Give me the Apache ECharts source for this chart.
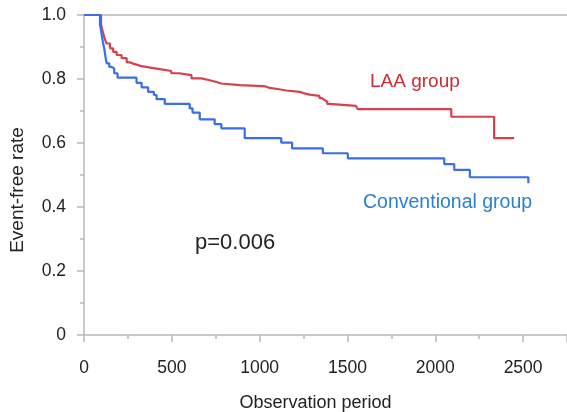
<!DOCTYPE html>
<html>
<head>
<meta charset="utf-8">
<script src="https://cdn.jsdelivr.net/npm/echarts@6/dist/echarts.min.js"></script>
<style>
  html, body { margin: 0; padding: 0; background: #fff; }
  #chart { width: 567px; height: 412px; }
</style>
</head>
<body>
<div id="chart"></div>
<script>
// Kaplan-Meier steps: [day, event-free rate after the step]
const laaSteps = [
  [0, 1.0], [97, 0.97], [106, 0.95], [115, 0.932], [122, 0.92], [129, 0.911],
  [148, 0.896], [166, 0.885], [186, 0.875], [214, 0.865], [243, 0.852],
  [262, 0.848], [280, 0.844], [304, 0.84], [328, 0.835], [385, 0.83],
  [441, 0.825], [497, 0.818], [540, 0.815], [574, 0.812], [612, 0.802],
  [669, 0.797], [710, 0.792], [744, 0.786], [782, 0.781], [886, 0.778],
  [1019, 0.776], [1038, 0.772], [1057, 0.768], [1110, 0.764], [1152, 0.76],
  [1227, 0.755], [1255, 0.751], [1284, 0.747], [1341, 0.74], [1355, 0.735],
  [1369, 0.729], [1385, 0.722], [1398, 0.716], [1549, 0.712], [1558, 0.706],
  [2091, 0.682], [2335, 0.615], [2449, 0.615]
];
const convSteps = [
  [0, 1.0], [91, 0.97], [96, 0.955], [101, 0.937], [108, 0.915], [115, 0.896],
  [122, 0.87], [129, 0.849], [144, 0.838], [157, 0.833], [172, 0.818],
  [191, 0.804], [299, 0.788], [328, 0.774], [365, 0.76], [398, 0.75],
  [413, 0.737], [460, 0.722], [602, 0.708], [618, 0.695], [659, 0.674],
  [744, 0.659], [782, 0.646], [915, 0.615], [1123, 0.601], [1185, 0.583],
  [1360, 0.568], [1502, 0.552], [2051, 0.534], [2108, 0.516], [2197, 0.493],
  [2530, 0.474]
];
const xTicks = { min: 0, max: 2750, step: 500 };
const yTicks = { min: 0, max: 1, step: 0.2 };

const font = "Liberation Sans, Arial, sans-serif";
const axisGray = "#b8b8b8";

const chart = echarts.init(document.getElementById("chart"));
chart.setOption({
  animation: false,
  grid: { left: 84, right: 0, top: 15, bottom: 77, outerBoundsMode: "none", containLabel: false },
  xAxis: [
    {
      type: "value",
      min: xTicks.min,
      max: xTicks.max,
      interval: xTicks.step,
      name: "Observation period",
      nameLocation: "middle",
      nameGap: 59,
      nameTextStyle: { fontFamily: font, fontSize: 18, color: "#222", padding: [0, 20, 0, 0] },
      axisLine: { lineStyle: { color: axisGray, width: 1.5 } },
      axisTick: { length: 7, lineStyle: { color: axisGray, width: 1.5 } },
      minorTick: { show: true, splitNumber: 2, length: 4, lineStyle: { color: axisGray, width: 1.5 } },
      axisLabel: {
        fontFamily: font, fontSize: 17.5, color: "#222", margin: 24, showMaxLabel: false,
        formatter: (v) => String(v)
      },
      splitLine: { show: false }
    },
    {
      type: "value",
      position: "top",
      min: xTicks.min,
      max: xTicks.max,
      axisLine: { show: true, lineStyle: { color: axisGray, width: 1.5 } },
      axisTick: { show: false },
      axisLabel: { show: false },
      splitLine: { show: false }
    }
  ],
  yAxis: {
    type: "value",
    min: yTicks.min,
    max: yTicks.max,
    interval: yTicks.step,
    name: "Event-free rate",
    nameLocation: "middle",
    nameGap: 57,
    nameTextStyle: { fontFamily: font, fontSize: 19, color: "#222", padding: [0, 30, 0, 0] },
    axisLine: { show: true, lineStyle: { color: axisGray, width: 1.5 } },
    axisTick: { show: true, length: 7, lineStyle: { color: axisGray, width: 1.5 } },
    minorTick: { show: true, splitNumber: 2, length: 4, lineStyle: { color: axisGray, width: 1.5 } },
    axisLabel: {
      fontFamily: font, fontSize: 17.5, color: "#222", margin: 18,
      formatter: (v) => (v === 0 ? "0" : v.toFixed(1))
    },
    splitLine: { show: false }
  },
  series: [
    {
      name: "LAA group",
      type: "line",
      step: "end",
      data: laaSteps,
      symbol: "none",
      lineStyle: { color: "#d9404f", width: 2.2 }
    },
    {
      name: "Conventional group",
      type: "line",
      step: "end",
      data: convSteps,
      symbol: "none",
      lineStyle: { color: "#3a6ee8", width: 2.2 }
    }
  ],
  graphic: [
    { type: "text", left: 370, top: 72, style: { text: "LAA group", fontFamily: font, fontSize: 19, fill: "#cc2a36" } },
    { type: "text", left: 363, top: 193, style: { text: "Conventional group", fontFamily: font, fontSize: 19.5, fill: "#2a7fd4" } },
    { type: "text", left: 195, top: 232, style: { text: "p=0.006", fontFamily: font, fontSize: 22, fill: "#222" } }
  ]
});
</script>
</body>
</html>
